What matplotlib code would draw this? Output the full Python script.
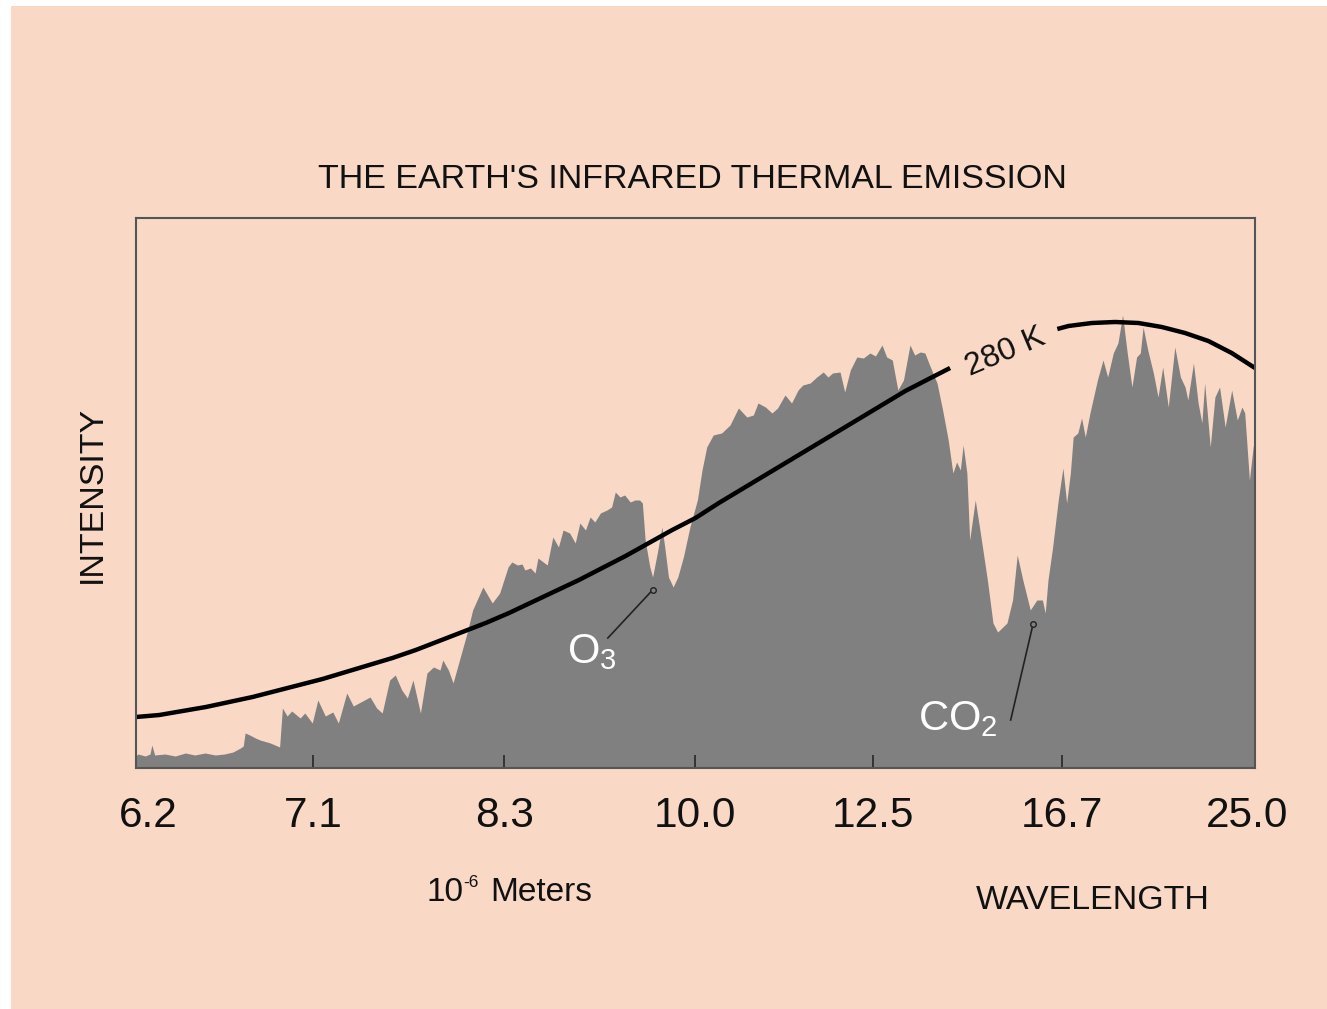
import matplotlib
matplotlib.use('Agg')
import matplotlib.pyplot as plt
from matplotlib.patches import Rectangle
from matplotlib.transforms import ScaledTranslation

plt.rcParams['font.family'] = ['Liberation Sans', 'DejaVu Sans']
plt.rcParams['mathtext.fontset'] = 'custom'
plt.rcParams['mathtext.rm'] = 'Liberation Sans'
plt.rcParams['mathtext.it'] = 'Liberation Sans:italic'
plt.rcParams['mathtext.bf'] = 'Liberation Sans:bold'

# ---------------- data (x = wavenumber-like position, cm^-1) ----------------
spec_wn = [1600, 1598, 1590, 1585, 1583, 1580, 1569, 1558, 1547, 1537, 1526, 1515, 1505, 1496,
           1488, 1485, 1483, 1478, 1472, 1467, 1456, 1446, 1443, 1438, 1433, 1424, 1419, 1411,
           1405, 1397, 1389, 1383, 1374, 1367, 1357, 1349, 1342, 1336, 1328, 1322, 1315, 1309,
           1303, 1295, 1288, 1281, 1274, 1271, 1265, 1260, 1245, 1239, 1228, 1218, 1210, 1201,
           1197, 1191, 1186, 1183, 1177, 1172, 1169, 1159, 1153, 1147, 1142, 1135, 1129, 1124,
           1118, 1113, 1108, 1102, 1095, 1090, 1086, 1081, 1076, 1070, 1065, 1060, 1057, 1054,
           1049, 1046, 1041, 1036, 1033, 1029, 1024, 1019, 1013, 1006, 998, 993, 988, 981, 972,
           963, 954, 945, 938, 933, 925, 918, 912, 904, 897, 890, 885, 877, 870, 863, 858, 853,
           845, 840, 834, 827, 820, 813, 807, 800, 795, 789, 783, 777, 770, 765, 759, 754, 749,
           741, 735, 729, 724, 720, 716, 713, 709, 706, 700, 695, 687, 681, 676, 666, 660, 655,
           649, 641, 634, 628, 625, 622, 617, 611, 606, 602, 598, 595, 590, 586, 582, 577, 569,
           563, 558, 552, 547, 542, 537, 532, 527, 523, 520, 515, 509, 504, 499, 493, 486, 480,
           475, 472, 466, 461, 457, 454, 448, 443, 438, 432, 425, 419, 414, 411, 406, 402, 400]
spec_val = [12, 14, 12, 14, 23, 13, 14, 12, 15, 13, 15, 13, 14, 16,
            20, 22, 35, 33, 30, 28, 25, 21, 60, 52, 57, 50, 55, 45,
            68, 52, 56, 45, 75, 62, 67, 71, 60, 55, 88, 93, 78, 70,
            88, 55, 95, 101, 98, 108, 98, 85, 135, 158, 181, 165, 175, 201,
            206, 203, 204, 198, 200, 195, 210, 203, 231, 221, 238, 235, 225, 245,
            238, 251, 246, 255, 258, 261, 276, 271, 273, 266, 268, 268, 265, 228,
            201, 191, 215, 241, 221, 191, 181, 191, 211, 241, 268, 298, 321, 333, 335,
            343, 360, 351, 353, 365, 361, 355, 360, 373, 365, 378, 383, 385, 391, 396, 391, 395,
            396, 376, 398, 411, 410, 415, 412, 423, 411, 408, 378, 388, 423, 413, 416, 415, 403,
            385, 358, 328, 295, 306, 298, 323, 295, 228, 268, 238, 188, 145, 136, 145, 168, 213,
            188, 158, 168, 168, 155, 188, 221, 268, 300, 265, 295, 331, 335, 350, 331, 355, 388,
            408, 391, 415, 425, 453, 415, 381, 411, 415, 441, 418, 395, 371, 401, 361, 421, 391,
            381, 368, 405, 365, 345, 385, 321, 371, 381, 341, 378, 348, 361, 355, 288, 321, 330]

# 280 K curve (gap where the label sits)
bb_wn = [1600, 1575, 1550, 1525, 1500, 1475, 1450, 1425, 1400, 1375, 1350, 1325, 1300,
         1275, 1250, 1225, 1200, 1175, 1150, 1125, 1100, 1075, 1050, 1025, 1000, 975,
         950, 925, 900, 875, 850, 825, 800, 775, 750, 727,
         612, 600, 575, 550, 525, 500, 475, 450, 425, 400]
bb_val = [51, 53, 57, 61, 66, 71, 77, 83, 89, 96, 103, 110, 118,
          127, 136, 145, 155, 166, 177, 188, 200, 212, 225, 238, 250, 265,
          279, 293, 307, 321, 335, 349, 363, 377, 389, 400,
          439, 442, 445, 446, 445, 441, 435, 427, 415, 400]
gap_lo, gap_hi = 612, 727

tick_wn = [1600, 1410, 1205, 1001, 810, 607, 400]
tick_labels = ['6.2', '7.1', '8.3', '10.0', '12.5', '16.7', '25.0']

# ---------------- figure ----------------
W, H = 1327, 1009
PEACH = '#F9D9C6'
GRAY = '#808080'
INK = '#111111'
fig = plt.figure(figsize=(W / 100, H / 100), dpi=100)
fig.patch.set_facecolor('white')
fig.patches.append(Rectangle((11 / W, 0), 1 - 11 / W, 1 - 6 / H, transform=fig.transFigure,
                             facecolor=PEACH, edgecolor='none', zorder=-10))

ax = fig.add_axes([136 / W, 1 - 768 / H, (1255 - 136) / W, (768 - 218) / H])
ax.set_facecolor(PEACH)
ax.fill_between(spec_wn, spec_val, 0, color=GRAY, lw=0, zorder=1)

seg1 = [(x, y) for x, y in zip(bb_wn, bb_val) if x >= gap_hi]
seg2 = [(x, y) for x, y in zip(bb_wn, bb_val) if x <= gap_lo]
for seg in (seg1, seg2):
    ax.plot([p[0] for p in seg], [p[1] for p in seg], color='black', lw=3.2,
            solid_capstyle='butt', solid_joinstyle='round', zorder=3)

ax.text(668, 416, '280 K', fontsize=23, rotation=23, rotation_mode='anchor',
        ha='center', va='center', color=INK, zorder=4)

ax.set_xlim(1600, 400)
ax.set_ylim(0, 550)
ax.set_yticks([])
ax.set_xticks(tick_wn)
ax.set_xticklabels(tick_labels)
ax.tick_params(axis='x', direction='in', length=9.5, width=1.4, color='#333333',
               pad=20, labelsize=30.5, labelcolor=INK)
for s in ax.spines.values():
    s.set_color('#555555')
    s.set_linewidth(1.5)
    s.set_zorder(5)

labs = ax.get_xticklabels()
labs[0].set_transform(labs[0].get_transform() + ScaledTranslation(12.5 / 100, 0, fig.dpi_scale_trans))
labs[-1].set_transform(labs[-1].get_transform() + ScaledTranslation(-7.5 / 100, 0, fig.dpi_scale_trans))

# molecule annotations
ax.text(1138, 105, r'$\mathregular{O_3}$', fontsize=30, color='white', ha='left',
        va='baseline', zorder=4)
ax.plot([1094, 1046], [130, 178], color='#222222', lw=1.2, zorder=4)
ax.plot([1046], [178], marker='o', ms=4, mfc=GRAY, mec='#222222', mew=1.0, zorder=4)

ax.text(761, 38, r'$\mathregular{CO_2}$', fontsize=30, color='white', ha='left',
        va='baseline', zorder=4)
ax.plot([662, 638], [48, 144], color='#222222', lw=1.2, zorder=4)
ax.plot([638], [144], marker='o', ms=4, mfc=GRAY, mec='#222222', mew=1.0, zorder=4)

# texts
fig.text(692 / W, 1 - 188 / H, "THE EARTH'S INFRARED THERMAL EMISSION", fontsize=24.5,
         ha='center', va='baseline', color=INK)
fig.text(101 / W, 1 - 494 / H, 'INTENSITY', fontsize=24.5, rotation=90,
         rotation_mode='anchor', ha='center', va='baseline', color=INK)
fig.text(427 / W, 1 - 901 / H, '10', fontsize=24, ha='left', va='baseline', color=INK)
fig.text(463 / W, 1 - 887 / H, '-6', fontsize=12.5, ha='left', va='baseline', color=INK)
fig.text(490 / W, 1 - 901 / H, 'Meters', fontsize=24, ha='left', va='baseline', color=INK)
fig.text(1093 / W, 1 - 909 / H, 'WAVELENGTH', fontsize=24.5, ha='center',
         va='baseline', color=INK)

fig.savefig('out.png', dpi=100, facecolor=fig.get_facecolor())
